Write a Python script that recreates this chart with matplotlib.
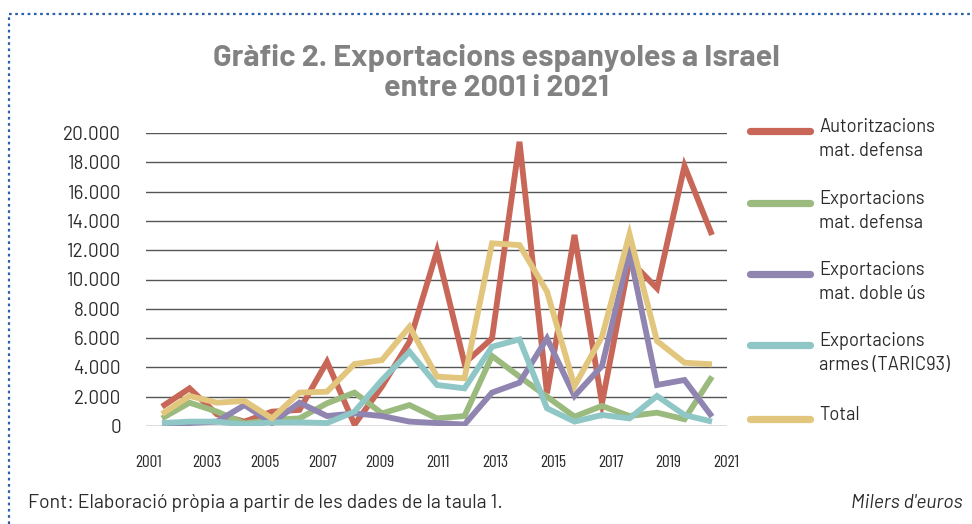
import matplotlib.pyplot as plt
from matplotlib.lines import Line2D
import numpy as np

years = list(range(2001, 2022))

autoritzacions = [1320, 2570, 800, 300, 980, 1100, 4390, 100, 2700, 5760, 11950,
                  4280, 5980, 19400, 2230, 13040, 1550, 11330, 9400, 17750, 13040]
exp_defensa = [520, 1590, 980, 180, 410, 520, 1550, 2280, 860, 1430, 520,
               680, 4780, 3370, 2000, 640, 1370, 680, 910, 460, 3370]
doble_us = [100, 200, 300, 1430, 200, 1590, 680, 860, 680, 300, 200,
            100, 2280, 2960, 5980, 2050, 4100, 11900, 2800, 3140, 640]
taric93 = [200, 300, 300, 100, 250, 250, 200, 980, 3140, 5070, 2800,
           2570, 5410, 5910, 1210, 300, 750, 520, 2050, 750, 300]
total = [820, 2050, 1590, 1710, 520, 2280, 2340, 4230, 4500, 6780, 3370,
         3260, 12470, 12350, 9170, 2730, 6100, 13100, 5800, 4320, 4210]

series = [autoritzacions, exp_defensa, doble_us, taric93, total]
labels = ['Autoritzacions\nmat. defensa', 'Exportacions\nmat. defensa',
          'Exportacions\nmat. doble ús', 'Exportacions\narmes (TARIC93)', 'Total']
colors = ['#C86657', '#9BBA7E', '#9085B0', '#8FC6C6', '#E3C67D']

yticks = list(range(0, 20001, 2000))
xlabels = list(range(2001, 2022, 2))

F_REG = ['Barlow', 'DejaVu Sans']
F_COND = ['Barlow Condensed', 'DejaVu Sans']
TXT = '#2b2b2b'

W, H = 972, 524
fig = plt.figure(figsize=(W / 100, H / 100), dpi=100)

# plot area in pixels: x 146..727, y 133..426
ax = fig.add_axes([146 / W, (H - 426) / H, 581 / W, 293 / H])
for s, c in zip(series, colors):
    ax.plot(years, s, color=c, lw=4.2, solid_joinstyle='miter', solid_capstyle='butt')

ax.set_ylim(0, 20000)
ax.set_xlim(2001 - 16 / 27.5, 2021 + 15 / 27.5)
ax.set_yticks(yticks)
ax.set_yticklabels([f'{v:,}'.replace(',', '.') for v in yticks],
                   family=F_REG, fontsize=13.5, color=TXT)
ax.tick_params(axis='y', length=0, pad=18)
ax.yaxis.grid(True, color='#555555', lw=1.0)
ax.set_axisbelow(True)
ax.set_xticks([])
for sp in ax.spines.values():
    sp.set_visible(False)

# year labels sit on a slightly different scale than the points
def to_lab(x):
    return 2001 + (13 + (np.asarray(x) - 2001) * 27.5) / 28.85

def from_lab(l):
    return 2001 + ((np.asarray(l) - 2001) * 28.85 - 13) / 27.5

sec = ax.secondary_xaxis('bottom', functions=(to_lab, from_lab))
sec.set_xticks(xlabels)
sec.set_xticklabels([str(y) for y in xlabels], family=F_COND,
                    fontsize=12.5, color=TXT)
sec.tick_params(length=0, pad=21)
sec.spines['bottom'].set_visible(False)

# title
fig.text(496 / W, 1 - 58 / H, 'Gràfic 2. Exportacions espanyoles a Israel',
         ha='center', va='center', fontsize=22, fontweight='bold',
         family=F_REG, color='#828282')
fig.text(496 / W, 1 - 88 / H, 'entre 2001 i 2021',
         ha='center', va='center', fontsize=22, fontweight='bold',
         family=F_REG, color='#828282')

# legend drawn by hand
leg_y = [131, 203, 274, 345, 419]
for yy, lab, c in zip(leg_y, labels, colors):
    fig.add_artist(Line2D([750 / W, 810 / W], [1 - yy / H, 1 - yy / H], color=c,
                          lw=5.2, solid_capstyle='round'))
    fig.text(819 / W, 1 - (yy - 13) / H, lab, ha='left', va='top', fontsize=13.2,
             family=F_REG, color=TXT, linespacing=1.45)

# footer
fig.text(28 / W, 1 - 503 / H, 'Font: Elaboració pròpia a partir de les dades de la taula 1.',
         ha='left', va='center', fontsize=14, family=F_REG, color=TXT)
fig.text(963 / W, 1 - 503 / H, "Milers d'euros", ha='right', va='center', fontsize=14,
         fontstyle='italic', family=F_REG, color=TXT)

# dotted frame
fig.add_artist(Line2D([9 / W, 1], [1 - 14 / H, 1 - 14 / H], color='#2A5FAA', lw=1.6,
                      linestyle=(0, (1.2, 1.6))))
fig.add_artist(Line2D([9 / W, 9 / W], [0, 1 - 14 / H], color='#2A5FAA', lw=1.6,
                      linestyle=(0, (1.2, 1.6))))

fig.savefig('out.png', dpi=100)
